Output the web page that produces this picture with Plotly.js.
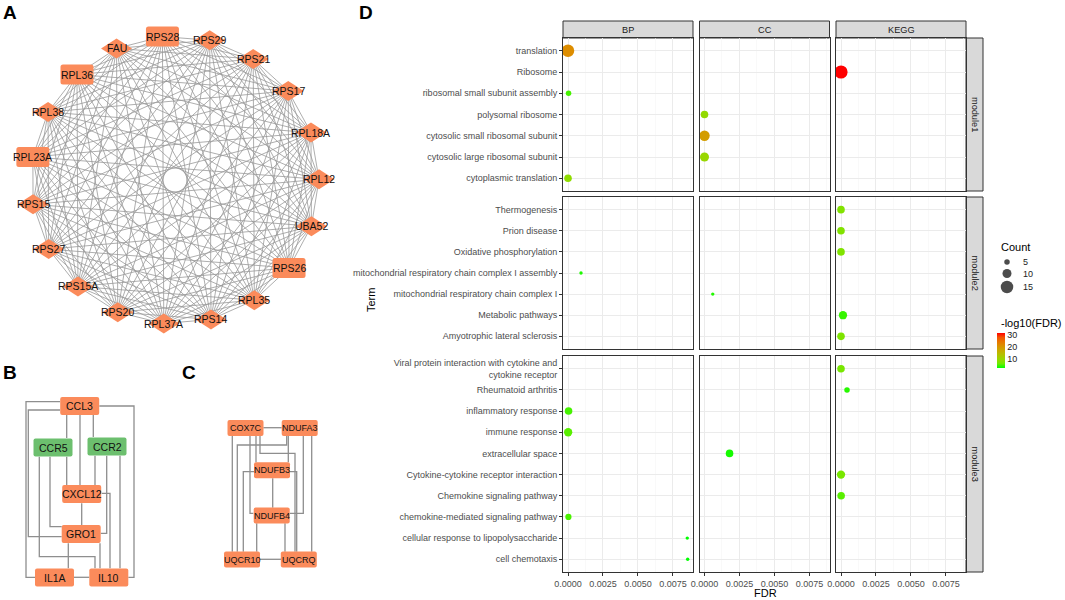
<!DOCTYPE html>
<html><head><meta charset="utf-8">
<script src="https://cdn.plot.ly/plotly-3.0.1.min.js"></script>
<style>html,body{margin:0;padding:0;background:#fff}</style>
</head><body><div id="chart" style="width:1065px;height:600px"></div>
<script>
// ================= Panel D data (enrichment) =================
const terms = [
  'translation','Ribosome','ribosomal small subunit assembly','polysomal ribosome',
  'cytosolic small ribosomal subunit','cytosolic large ribosomal subunit','cytoplasmic translation',
  'Thermogenesis','Prion disease','Oxidative phosphorylation',
  'mitochondrial respiratory chain complex I assembly','mitochondrial respiratory chain complex I',
  'Metabolic pathways','Amyotrophic lateral sclerosis',
  'Viral protein interaction with cytokine and<br>cytokine receptor','Rheumatoid arthritis',
  'inflammatory response','immune response','extracellular space',
  'Cytokine-cytokine receptor interaction','Chemokine signaling pathway',
  'chemokine-mediated signaling pathway','cellular response to lipopolysaccharide','cell chemotaxis'
];
const modules = [
  'module1','module1','module1','module1','module1','module1','module1',
  'module2','module2','module2','module2','module2','module2','module2',
  'module3','module3','module3','module3','module3','module3','module3','module3','module3','module3'
];
const ontology = [
  'BP','KEGG','BP','CC','CC','CC','BP',
  'KEGG','KEGG','KEGG','BP','CC','KEGG','KEGG',
  'KEGG','KEGG','BP','BP','CC','KEGG','KEGG','BP','BP','BP'
];
const counts = [
  15,16,5,8,12,10,8,
  8,8,8,2,2,9,8,
  8,5,8,9,8,9,8,6,2,2
];
const fdr = [
  5e-22,2e-32,4e-5,1e-9,1e-19,3e-10,2.5e-9,
  4e-8,4e-8,6e-8,0.00093,0.00059,0.00014,8e-8,
  3e-7,0.00043,4e-5,1e-5,0.00179,3e-7,1e-5,3e-5,0.00852,0.00855
];
const facetCols = ['BP','CC','KEGG'];
const facetRows = ['module1','module2','module3'];
const xTickVals = [0,0.0025,0.005,0.0075];
const xTickText = ['0.0000','0.0025','0.0050','0.0075'];
const colorTicks = [10,20,30];
const sizeLegendCounts = [5,10,15];

// ================= Network data =================
const netA_nodes = ['RPS28','RPS29','RPS21','RPS17','RPL18A','RPL12','UBA52','RPS26','RPL35','RPS14',
  'RPL37A','RPS20','RPS15A','RPS27','RPS15','RPL23A','RPL38','RPL36','FAU'];
const netA_rectNodes = ['RPS28','RPL36','RPL23A','RPS26'];
// module 1 is fully connected: every pair of nodes is linked
const netA_edges = [];
for (let i = 0; i < netA_nodes.length; i++) for (let j = i + 1; j < netA_nodes.length; j++) netA_edges.push([netA_nodes[i], netA_nodes[j]]);

const netB_nodes = ['CCL3','CCR5','CCR2','CXCL12','GRO1','IL1A','IL10'];
const netB_green = ['CCR5','CCR2'];
const netB_edges = [
  ['CCL3','IL1A'],['CCL3','GRO1'],['CCL3','IL10'],['CCL3','CCR5'],['CCL3','CXCL12'],['CCL3','CCR2'],
  ['CCR5','GRO1'],['CCR5','IL10'],['CCR5','CXCL12'],['CCR2','CXCL12'],['CCR2','GRO1'],['CCR2','IL10'],
  ['CXCL12','IL10'],['CXCL12','GRO1'],['GRO1','IL1A'],['GRO1','IL10'],['IL1A','IL10']
];
const netC_nodes = ['COX7C','NDUFA3','NDUFB3','NDUFB4','UQCR10','UQCRQ'];
const netC_edges = [
  ['COX7C','NDUFA3'],['UQCR10','UQCRQ'],['NDUFB3','NDUFB4'],['COX7C','UQCR10'],['COX7C','NDUFB4'],
  ['COX7C','NDUFB3'],['COX7C','UQCRQ'],['NDUFA3','UQCR10'],['NDUFA3','NDUFB3'],['NDUFA3','NDUFB4'],
  ['NDUFA3','UQCRQ'],['NDUFB3','UQCR10'],['NDUFB3','UQCRQ'],['NDUFB4','UQCR10'],['NDUFB4','UQCRQ']
];

// ================= Layout (positions / styles) =================
const W = 1065, H = 600;
const FONT = '"Liberation Sans", Arial, Helvetica, sans-serif';
const ORANGE = '#FB8B5B', GREEN = '#6CBF6E';
const px = v => v / W, py = v => 1 - v / H;

// network A: circular layout
const A_center = [175, 180], A_radius = 144, A_start = -5;
// network B / C: node centres and orthogonal edge routes (pixel layout units)
const netB_pos = {CCL3:[79.7,406],CCR5:[53,447.5],CCR2:[107,446.5],CXCL12:[81.7,494],GRO1:[81.2,534],IL1A:[54.5,577.5],IL10:[108.8,577.5]};
const netB_routes = [
  [[60,401.7],[26,401.7],[26,577.3],[35,577.3]],
  [[60,410],[28.3,410],[28.3,536.7],[61.7,536.7]],
  [[99.3,406],[134,406],[134,577.3],[128.3,577.3]],
  [[66.7,414],[66.7,438]],
  [[80,414],[80,485]],
  [[93.3,414],[93.3,437]],
  [[50,456.7],[50,526.7],[61.7,526.7]],
  [[39.3,456.7],[39.3,556.7],[95,556.7],[95,568.3]],
  [[66.7,456.7],[66.7,485]],
  [[95,455.7],[95,485]],
  [[106.7,455.7],[106.7,533.3],[100.7,533.3]],
  [[120,455.7],[120,568.3]],
  [[101.7,493.3],[110,493.3],[110,568.3]],
  [[81.7,503.3],[81.7,525]],
  [[68.3,543.3],[68.3,568.3]],
  [[100,543.3],[100,568.3]],
  [[74,577.3],[89.3,577.3]]
];
const netC_pos = {COX7C:[245.5,428],NDUFA3:[299.7,428],NDUFB3:[272,470.3],NDUFB4:[271.7,515.5],UQCR10:[242,559.5],UQCRQ:[298.8,559.5]};
const netC_routes = [
  [[263.3,427.7],[281.7,427.7]],
  [[260,559.3],[281,559.3]],
  [[272.7,478.3],[272.7,507.7]],
  [[232.3,436],[232.3,551.7]],
  [[250,436],[250,513.3],[253.3,513.3]],
  [[256,436],[256,462.3]],
  [[260,436],[260,453.3],[295,453.3],[295,551.7]],
  [[286.7,436],[286.7,445],[237.3,445],[237.3,551.7]],
  [[288.3,436],[288.3,462.3]],
  [[303.3,436],[303.3,513.3],[290,513.3]],
  [[311.7,436],[311.7,551.7]],
  [[254,471.7],[243.3,471.7],[243.3,551.7]],
  [[290,471.7],[296.7,471.7],[296.7,551.7]],
  [[256.7,523.3],[256.7,551.7]],
  [[285,523.3],[285,551.7]]
];

// facet panel geometry (pixels)
const colDom = [[563,693],[699.5,829.5],[836,966]];
const rowDom = [[38,191],[197,349],[356,572]];
const xRange = [-0.000357, 0.00893];

const sizeOf = c => 2 + 0.7 * c;
const colorscale = [[0,'#00FF00'],[0.125,'rgb(112,235,0)'],[0.25,'rgb(152,215,0)'],[0.375,'rgb(179,194,0)'],
  [0.5,'rgb(201,171,0)'],[0.625,'rgb(218,146,0)'],[0.75,'rgb(232,118,0)'],[0.875,'rgb(244,83,0)'],[1,'#FF0000']];
const nlog = fdr.map(v => -Math.log10(v));
const cmin = Math.min(...nlog), cmax = Math.max(...nlog);

const traces = [];
const layout = {
  width: W, height: H, margin: {l:0, r:0, t:0, b:0, pad:0},
  paper_bgcolor: '#fff', plot_bgcolor: '#fff', showlegend: false,
  font: {family: FONT, color: '#000'}, shapes: [], annotations: []
};

// ---------- network axes (pixel space) ----------
layout.xaxis10 = {domain:[0, 350/W], range:[0,350], visible:false, anchor:'y10', fixedrange:true};
layout.yaxis10 = {domain:[0,1], range:[600,0], visible:false, anchor:'x10', fixedrange:true};

function rrect(cx, cy, w, h, r) {
  const x0 = cx - w/2, x1 = cx + w/2, y0 = cy - h/2, y1 = cy + h/2;
  return `M${x0+r},${y0} L${x1-r},${y0} Q${x1},${y0} ${x1},${y0+r} L${x1},${y1-r} Q${x1},${y1} ${x1-r},${y1} L${x0+r},${y1} Q${x0},${y1} ${x0},${y1-r} L${x0},${y0+r} Q${x0},${y0} ${x0+r},${y0} Z`;
}
function diamond(cx, cy, hw, hh) {
  return `M${cx-hw},${cy} L${cx},${cy-hh} L${cx+hw},${cy} L${cx},${cy+hh} Z`;
}
function addNode(path, fill) {
  layout.shapes.push({type:'path', path, xref:'x10', yref:'y10', fillcolor:fill, line:{color:fill, width:0}, layer:'above'});
}
function addLabel(text, x, y, size) {
  layout.annotations.push({text, x, y, xref:'x10', yref:'y10', showarrow:false, font:{size, color:'#111', family:FONT}, xanchor:'center', yanchor:'middle'});
}

// Network A
const A_pos = {};
netA_nodes.forEach((n, i) => {
  const a = (A_start + i * 360 / netA_nodes.length) * Math.PI / 180;
  A_pos[n] = [A_center[0] + A_radius * Math.sin(a), A_center[1] - A_radius * Math.cos(a)];
});
{
  const ex = [], ey = [];
  netA_edges.forEach(([a, b]) => { ex.push(A_pos[a][0], A_pos[b][0], null); ey.push(A_pos[a][1], A_pos[b][1], null); });
  traces.push({type:'scatter', mode:'lines', x:ex, y:ey, xaxis:'x10', yaxis:'y10', line:{color:'#999999', width:0.8}, hoverinfo:'skip'});
}
netA_nodes.forEach(n => {
  const [x, y] = A_pos[n];
  if (netA_rectNodes.includes(n)) addNode(rrect(x, y, 33, 20, 2.5), ORANGE);
  else addNode(diamond(x, y, 15.5, 10), ORANGE);
  addLabel(n, x, y, 10.5);
});

// Networks B and C
function drawRouted(routes, width) {
  const ex = [], ey = [];
  routes.forEach(r => { r.forEach(p => { ex.push(p[0]); ey.push(p[1]); }); ex.push(null); ey.push(null); });
  traces.push({type:'scatter', mode:'lines', x:ex, y:ey, xaxis:'x10', yaxis:'y10', line:{color:'#8E8E8E', width}, hoverinfo:'skip'});
}
drawRouted(netB_routes, 1.3);
drawRouted(netC_routes, 1.3);
netB_nodes.forEach(n => {
  const [x, y] = netB_pos[n];
  addNode(rrect(x, y, 39, 18, 2), netB_green.includes(n) ? GREEN : ORANGE);
  addLabel(n, x, y, 10.5);
});
netC_nodes.forEach(n => {
  const [x, y] = netC_pos[n];
  addNode(rrect(x, y, 36, 16, 2), ORANGE);
  addLabel(n, x, y, 9);
});

// Panel letters
[['A',10,12],['B',10,372],['C',189,372],['D',366,12]].forEach(([t,x,y]) => {
  layout.annotations.push({text:'<b>'+t+'</b>', x:px(x), y:py(y), xref:'paper', yref:'paper', showarrow:false,
    font:{size:19, color:'#000', family:FONT}, xanchor:'center', yanchor:'middle'});
});

// ---------- Panel D facets ----------
const tickFont = {family:FONT, size:9, color:'#4D4D4D'};
const rowTerms = facetRows.map(m => terms.filter((t, i) => modules[i] === m));
let first = true;
facetRows.forEach((m, r) => {
  facetCols.forEach((o, c) => {
    const k = r * 3 + c + 1;
    const n = rowTerms[r].length;
    layout['xaxis' + k] = {
      domain:[px(colDom[c][0]), px(colDom[c][1])], anchor:'y' + k, range:xRange,
      tickmode:'array', tickvals:xTickVals, ticktext:xTickText,
      showticklabels: r === 2, ticks: r === 2 ? 'outside' : '', ticklen:3, tickwidth:1, tickcolor:'#333',
      tickfont:tickFont, showgrid:true, gridcolor:'#EBEBEB', gridwidth:1,
      minor:{tickmode:'linear', tick0:0, dtick:0.00125, showgrid:true, gridcolor:'#F5F5F5', gridwidth:0.6, ticks:''},
      showline:true, mirror:true, linecolor:'#333', linewidth:1, zeroline:false, fixedrange:true
    };
    layout['yaxis' + k] = {
      domain:[py(rowDom[r][1]), py(rowDom[r][0])], anchor:'x' + k, type:'category',
      categoryorder:'array', categoryarray:rowTerms[r], range:[n - 0.4, -0.6],
      showticklabels: c === 0, ticks: c === 0 ? 'outside' : '', ticklen:3, tickwidth:1, tickcolor:'#333',
      tickfont:tickFont, showgrid:true, gridcolor:'#EBEBEB', gridwidth:1,
      showline:true, mirror:true, linecolor:'#333', linewidth:1, zeroline:false, fixedrange:true
    };
    // helper to register all row categories on this facet
    traces.push({type:'scatter', mode:'markers', x:rowTerms[r].map(() => 0), y:rowTerms[r], xaxis:'x' + k, yaxis:'y' + k,
      marker:{size:1, opacity:0}, hoverinfo:'skip'});
    const idx = terms.map((t, i) => i).filter(i => modules[i] === m && ontology[i] === o);
    const tr = {
      type:'scatter', mode:'markers', xaxis:'x' + k, yaxis:'y' + k,
      x: idx.map(i => fdr[i]), y: idx.map(i => terms[i]),
      marker:{size: idx.map(i => sizeOf(counts[i])), color: idx.map(i => nlog[i]), colorscale, cmin, cmax,
        line:{width:0}, opacity:1, showscale:first}
    };
    if (first) {
      tr.marker.colorbar = {x:px(997), xanchor:'left', xpad:0, y:py(350.5), yanchor:'middle', ypad:0,
        len:35, lenmode:'pixels', thickness:8, outlinewidth:0, tickvals:colorTicks, ticks:'',
        tickfont:{family:FONT, size:9, color:'#222'}, title:{text:''}};
      first = false;
    }
    traces.push(tr);
  });
});

// strips
facetCols.forEach((o, c) => {
  layout.shapes.push({type:'rect', xref:'paper', yref:'paper', x0:px(colDom[c][0]), x1:px(colDom[c][1]), y0:py(38), y1:py(21),
    fillcolor:'#D9D9D9', line:{color:'#333', width:1}, layer:'below'});
  layout.annotations.push({text:o, x:px((colDom[c][0] + colDom[c][1]) / 2), y:py(29.5), xref:'paper', yref:'paper',
    showarrow:false, font:{family:FONT, size:9.2, color:'#1A1A1A'}, xanchor:'center', yanchor:'middle'});
});
facetRows.forEach((m, r) => {
  layout.shapes.push({type:'rect', xref:'paper', yref:'paper', x0:px(966), x1:px(983), y0:py(rowDom[r][1]), y1:py(rowDom[r][0]),
    fillcolor:'#D9D9D9', line:{color:'#333', width:1}, layer:'below'});
  layout.annotations.push({text:m, x:px(974.5), y:py((rowDom[r][0] + rowDom[r][1]) / 2), xref:'paper', yref:'paper',
    showarrow:false, textangle:90, font:{family:FONT, size:9.2, color:'#1A1A1A'}, xanchor:'center', yanchor:'middle'});
});

// axis titles
layout.annotations.push({text:'FDR', x:px(765), y:py(593), xref:'paper', yref:'paper', showarrow:false,
  font:{family:FONT, size:11, color:'#000'}, xanchor:'center', yanchor:'middle'});
layout.annotations.push({text:'Term', x:px(371), y:py(300), xref:'paper', yref:'paper', showarrow:false, textangle:-90,
  font:{family:FONT, size:11, color:'#000'}, xanchor:'center', yanchor:'middle'});

// ---------- size legend ----------
const legendY = [262, 273.5, 287];
layout.xaxis11 = {domain:[px(985), 1], range:[985, 1065], visible:false, anchor:'y11', fixedrange:true};
layout.yaxis11 = {domain:[py(300), py(240)], range:[300, 240], visible:false, anchor:'x11', fixedrange:true};
traces.push({type:'scatter', mode:'markers', xaxis:'x11', yaxis:'y11', x:sizeLegendCounts.map(() => 1007), y:legendY,
  marker:{size:sizeLegendCounts.map(sizeOf), color:'#000', line:{width:0}}, hoverinfo:'skip'});
sizeLegendCounts.forEach((v, i) => {
  layout.annotations.push({text:String(v), x:1021, y:legendY[i], xref:'x11', yref:'y11', showarrow:false,
    font:{family:FONT, size:9, color:'#222'}, xanchor:'left', yanchor:'middle'});
});
layout.annotations.push({text:'Count', x:px(999), y:py(247), xref:'paper', yref:'paper', showarrow:false,
  font:{family:FONT, size:11, color:'#000'}, xanchor:'left', yanchor:'middle'});
layout.annotations.push({text:'-log10(FDR)', x:px(999), y:py(323), xref:'paper', yref:'paper', showarrow:false,
  font:{family:FONT, size:11, color:'#000'}, xanchor:'left', yanchor:'middle'});

Plotly.newPlot('chart', traces, layout, {staticPlot:true, displayModeBar:false});
</script>
</body></html>
